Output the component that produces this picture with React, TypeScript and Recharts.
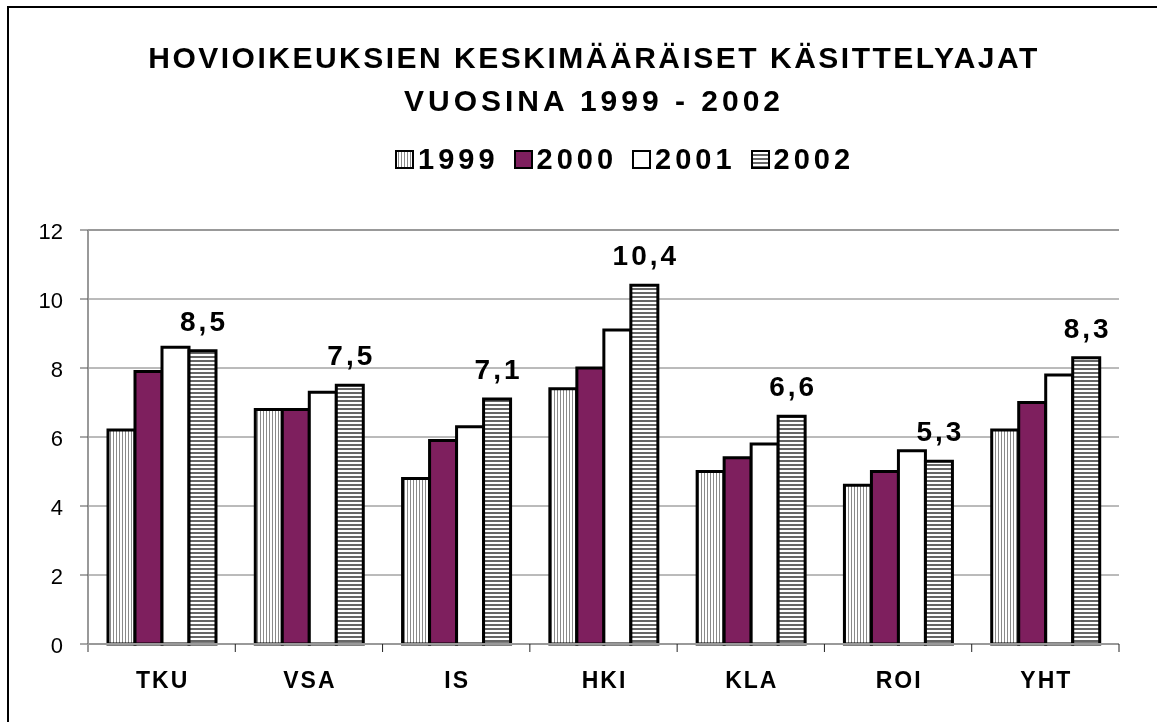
import React from 'react';
import {
  BarChart, Bar, XAxis, YAxis, CartesianGrid, LabelList, ReferenceLine,
} from 'recharts';

const categories = ['TKU', 'VSA', 'IS', 'HKI', 'KLA', 'ROI', 'YHT'];
const years = ['1999', '2000', '2001', '2002'];
const v1999 = [6.2, 6.8, 4.8, 7.4, 5.0, 4.6, 6.2];
const v2000 = [7.9, 6.8, 5.9, 8.0, 5.4, 5.0, 7.0];
const v2001 = [8.6, 7.3, 6.3, 9.1, 5.8, 5.6, 7.8];
const v2002 = [8.5, 7.5, 7.1, 10.4, 6.6, 5.3, 8.3];
const yTicks = [0, 2, 4, 6, 8, 10, 12];

const data = categories.map((c, i) => ({
  cat: c,
  y1999: v1999[i],
  y2000: v2000[i],
  y2001: v2001[i],
  y2002: v2002[i],
}));

const FONT = '"Liberation Sans", Arial, sans-serif';
const PLUM = '#7e1f5e';
const fills: Record<string, string> = {
  '1999': 'url(#pat1999)',
  '2000': PLUM,
  '2001': '#ffffff',
  '2002': 'url(#pat2002)',
};

function Patterns({ suffix = '' }: { suffix?: string }) {
  return (
    <defs>
      <pattern id={'pat1999' + suffix} width="3" height="3" patternUnits="userSpaceOnUse">
        <rect width="3" height="3" fill="#ffffff" />
        <rect x="0" width="1" height="3" fill="#8a8a8a" />
      </pattern>
      <pattern id={'pat2002' + suffix} width="4" height="4" patternUnits="userSpaceOnUse">
        <rect width="4" height="4" fill="#ffffff" />
        <rect y="0" width="4" height="2" fill="#666666" />
      </pattern>
    </defs>
  );
}

const fmt = (v: number) => v.toFixed(1).replace('.', ',');

function TopLabel(props: any) {
  const { x, y, width, value } = props;
  return (
    <text
      x={x + width / 2 + 1.5}
      y={y - 20}
      textAnchor="middle"
      fontFamily={FONT}
      fontWeight="bold"
      fontSize={28}
      letterSpacing={3}
      fill="#000"
    >
      {fmt(value)}
    </text>
  );
}

function CatTick(props: any) {
  const { x, y, payload, index } = props;
  const half = payload && payload.offset ? payload.offset : 73.6;
  return (
    <g>
      {index === 0 && (
        <line x1={x - half} y1={y} x2={x - half} y2={y + 8} stroke="#999" strokeWidth={2} />
      )}
      <line x1={x + half} y1={y} x2={x + half} y2={y + 8} stroke="#222" strokeWidth={1} />
      <text
        x={x + 1}
        y={y + 44}
        textAnchor="middle"
        fontFamily={FONT}
        fontWeight="bold"
        fontSize={23}
        letterSpacing={2}
        fill="#000"
      >
        {payload.value}
      </text>
    </g>
  );
}

function LegendRow() {
  return (
    <div
      style={{
        position: 'absolute',
        left: 387,
        top: 136,
        display: 'flex',
        alignItems: 'center',
        fontFamily: FONT,
        fontWeight: 'bold',
        fontSize: 29,
        letterSpacing: 4,
        lineHeight: '30px',
      }}
    >
      <svg width={0} height={0} style={{ position: 'absolute' }}>
        <Patterns suffix="L" />
      </svg>
      {years.map((yr) => (
        <div key={yr} style={{ display: 'flex', alignItems: 'center', marginRight: 15 }}>
          <svg width={19} height={19} style={{ marginRight: 4 }}>
            <rect
              x={1}
              y={1}
              width={17}
              height={17}
              fill={fills[yr].replace(')', 'L)')}
              stroke="#000"
              strokeWidth={2}
            />
          </svg>
          <span>{yr}</span>
        </div>
      ))}
    </div>
  );
}

export default function App() {
  return (
    <div style={{ position: 'relative', width: 1149, height: 706, background: '#fff' }}>
      <div
        style={{
          position: 'fixed',
          left: 7,
          top: 6,
          width: 1170,
          height: 730,
          borderTop: '2px solid #000',
          borderLeft: '2px solid #000',
          boxSizing: 'border-box',
          pointerEvents: 'none',
        }}
      />
      <div
        style={{
          position: 'absolute',
          left: 24,
          top: 28,
          width: 1124,
          textAlign: 'center',
          fontFamily: FONT,
          fontWeight: 'bold',
          fontSize: 30,
          letterSpacing: 2.5,
          lineHeight: '43px',
          color: '#000',
        }}
      >
        <div>HOVIOIKEUKSIEN KESKIMÄÄRÄISET KÄSITTELYAJAT</div>
        <div style={{ letterSpacing: 4 }}>VUOSINA 1999 - 2002</div>
      </div>
      <LegendRow />
      <div style={{ position: 'absolute', left: 0, top: 0 }}>
        <BarChart
          width={1149}
          height={706}
          data={data}
          margin={{ top: 222, right: 38, left: 0, bottom: 20 }}
          barGap={0}
        >
          <Patterns />
          <CartesianGrid vertical={false} stroke="#777" strokeWidth={1} />
          <XAxis
            dataKey="cat"
            height={50}
            axisLine={{ stroke: '#999', strokeWidth: 2 }}
            tickLine={false}
            tickSize={0}
            tickMargin={0}
            tick={<CatTick />}
            interval={0}
          />
          <YAxis
            width={80}
            domain={[0, 12]}
            ticks={yTicks}
            interval={0}
            axisLine={{ stroke: '#999', strokeWidth: 2 }}
            tickLine={{ stroke: '#555', strokeWidth: 1 }}
            tickSize={8}
            tickMargin={17}
            tick={{ fontFamily: FONT, fontSize: 22, fill: '#000', dy: 1 }}
          />
          <YAxis
            yAxisId="r"
            orientation="right"
            width={0}
            domain={[0, 12]}
            tick={false}
            tickLine={false}
            axisLine={{ stroke: '#999', strokeWidth: 2 }}
          />
          <ReferenceLine y={12} stroke="#999" strokeWidth={2} />
          {years.map((yr) => (
            <Bar
              key={yr}
              dataKey={'y' + yr}
              name={yr}
              fill={fills[yr]}
              stroke="#000"
              strokeWidth={3}
              barSize={27}
              isAnimationActive={false}
            >
              {yr === '2002' && <LabelList dataKey={'y' + yr} content={<TopLabel />} />}
            </Bar>
          ))}
        </BarChart>
      </div>
    </div>
  );
}
